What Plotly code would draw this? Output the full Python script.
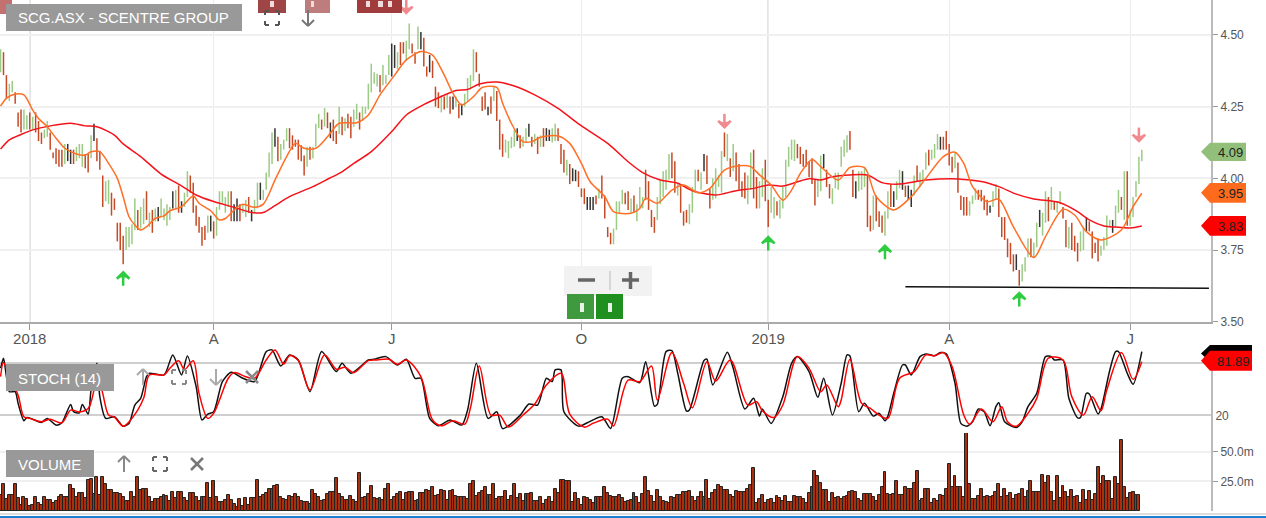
import plotly.graph_objects as go

# ---------- data ----------
HIGHS = [
4.45,4.44,4.36,4.33,4.34,4.30,4.23,4.24,4.24,4.22, 4.23,4.215,4.23,4.20,4.16,4.17,4.20,4.16,4.09,4.105,
4.10,4.10,4.12,4.12,4.10,4.10,4.11,4.12,4.12,4.085, 4.085,4.15,4.19,4.14,4.095,4.01,3.99,3.995,3.95,3.93,
3.845,3.845,3.80,3.83,3.83,3.84,3.93,3.89,3.90,3.93, 3.955,3.88,3.89,3.895,3.90,3.93,3.895,3.91,3.90,3.955,
3.96,3.975,3.92,3.95,4.025,4.01,3.985,3.905,3.865,3.83, 3.835,3.87,3.87,3.85,3.90,3.955,3.955,3.935,3.955,3.955,
3.91,3.93,3.91,3.91,3.925,3.935,3.89,3.925,3.985,3.985, 3.96,4.02,4.09,4.16,4.175,4.145,4.12,4.135,4.175,4.175,
4.15,4.135,4.135,4.115,4.08,4.11,4.11,4.11,4.19,4.225, 4.205,4.245,4.23,4.195,4.205,4.165,4.25,4.215,4.21,4.225,
4.215,4.24,4.26,4.23,4.25,4.25,4.33,4.40,4.37,4.365, 4.36,4.395,4.36,4.43,4.47,4.465,4.44,4.475,4.475,4.48,
4.54,4.47,4.44,4.53,4.51,
4.49,4.39,4.43,4.41,4.32, 4.30,4.29,4.285,4.295,4.285,4.285,4.285,4.26,4.26,4.295,
4.35,4.36,4.45,4.44,4.365,4.285,4.30,4.25,4.285,4.32, 4.305,4.205,4.155,4.135,4.13,4.145,4.17,4.175,4.15,4.145,
4.175,4.19,4.145,4.155,4.145,4.15,4.175,4.175,4.17,4.175, 4.19,4.175,4.12,4.10,4.065,4.05,4.035,4.03,4.025,3.965,
3.965,3.935,3.935,3.935,3.94,3.965,4.01,3.94,3.83,3.81, 3.825,3.92,3.92,3.96,3.95,3.955,3.93,3.94,3.91,3.97,
3.935,4.03,3.99,3.89,3.865,3.935,3.995,4.025,4.03,4.085, 4.09,4.06,3.98,3.975,3.885,3.89,3.91,3.97,4.03,4.03,
4.02,4.085,4.08,3.965,4.00,4.035,4.01,4.095,4.16,4.155, 4.07,4.12,4.09,4.05,3.99,4.02,4.01,4.09,4.10,4.005,
3.99,4.035,4.065,3.925,3.97,3.935,3.92,3.925,3.97,4.065, 4.11,4.135,4.135,4.12,4.11,4.085,4.10,4.06,4.07,3.995,
3.995,4.08,4.085,4.03,3.98,3.965,4.02,4.02,4.11,4.135, 4.15,4.165,4.03,3.99,4.025,4.025,4.035,4.01,3.87,3.94,
3.94,3.885,3.87,3.885,3.955,3.98,3.955,3.99,4.03,4.025, 3.975,3.975,3.96,4.01,4.045,4.02,4.03,4.09,4.10,4.10,
4.12,4.155,4.145,4.145,4.165,4.12,4.075,4.09,4.055,3.94, 3.935,3.935,3.92,3.94,3.965,3.96,3.96,3.94,3.925,3.905,
3.955,3.98,3.965,3.865,3.865,3.79,3.775,3.735,3.735,3.68, 3.70,3.725,3.79,3.79,3.775,3.845,3.89,3.88,3.955,3.935,
3.97,3.92,3.92,3.955,3.90,3.855,3.83,3.845,3.80,3.775, 3.815,3.83,3.865,3.85,3.815,3.775,3.79,3.765,3.795,3.87,
3.855,3.855,3.905,3.96,3.935,4.025,4.025,3.89,3.935,3.99, 4.075,4.10]
LOWS = [
4.37,4.36,4.28,4.27,4.30,4.26,4.18,4.16,4.17,4.17, 4.17,4.17,4.16,4.13,4.12,4.14,4.145,4.10,4.07,4.05,
4.04,4.04,4.05,4.06,4.05,4.05,4.06,4.07,4.04,4.035, 4.02,4.07,4.13,4.06,4.03,3.90,3.92,3.91,3.87,3.89,
3.78,3.75,3.70,3.75,3.76,3.77,3.82,3.82,3.825,3.84, 3.855,3.83,3.81,3.85,3.85,3.865,3.855,3.835,3.855,3.895,
3.895,3.88,3.88,3.90,3.935,3.95,3.88,3.835,3.81,3.765, 3.785,3.81,3.815,3.79,3.80,3.89,3.915,3.88,3.90,3.85,
3.85,3.85,3.85,3.88,3.865,3.88,3.85,3.88,3.895,3.925, 3.925,3.96,4.005,4.05,4.11,4.06,4.065,4.10,4.13,4.105,
4.10,4.11,4.065,4.06,4.01,4.04,4.065,4.07,4.11,4.175, 4.17,4.18,4.175,4.14,4.13,4.12,4.155,4.15,4.165,4.175,
4.14,4.18,4.205,4.17,4.20,4.225,4.24,4.30,4.33,4.32, 4.30,4.325,4.33,4.36,4.355,4.385,4.38,4.395,4.435,4.41,
4.45,4.435,4.40,4.45,4.45,
4.39,4.355,4.37,4.35,4.25, 4.245,4.23,4.24,4.245,4.225,4.24,4.25,4.21,4.22,4.25,
4.27,4.31,4.34,4.37,4.32,4.235,4.24,4.22,4.225,4.27, 4.20,4.10,4.075,4.09,4.07,4.105,4.11,4.13,4.105,4.11,
4.125,4.145,4.11,4.12,4.085,4.11,4.11,4.13,4.13,4.125, 4.13,4.13,4.05,4.02,4.01,3.98,3.99,3.99,3.97,3.935,
3.91,3.89,3.89,3.89,3.91,3.93,3.93,3.86,3.795,3.77, 3.77,3.82,3.88,3.91,3.91,3.89,3.88,3.88,3.85,3.895,
3.895,3.925,3.89,3.83,3.81,3.855,3.91,3.935,3.96,3.995, 4.00,3.95,3.94,3.88,3.835,3.845,3.84,3.88,3.95,3.99,
3.96,4.025,3.98,3.895,3.925,3.93,3.97,3.95,4.075,4.06, 4.005,4.025,3.99,3.96,3.935,3.93,3.91,3.96,3.93,3.895,
3.895,3.935,3.92,3.83,3.88,3.86,3.87,3.86,3.895,3.935, 4.04,4.065,4.06,4.07,4.05,4.04,4.04,4.005,3.98,3.905,
3.935,3.955,4.035,3.97,3.93,3.91,3.965,3.96,4.04,4.075, 4.09,4.10,3.935,3.93,3.955,3.96,3.97,3.83,3.815,3.82,
3.85,3.83,3.81,3.80,3.86,3.90,3.90,3.925,3.965,3.96, 3.935,3.925,3.90,3.94,3.99,3.97,3.99,4.03,4.045,4.065,
4.07,4.10,4.10,4.10,4.10,4.045,4.02,4.035,3.95,3.89, 3.87,3.87,3.87,3.91,3.925,3.925,3.92,3.89,3.87,3.88,
3.90,3.925,3.865,3.795,3.785,3.725,3.70,3.675,3.68,3.625, 3.64,3.675,3.725,3.725,3.725,3.76,3.83,3.80,3.845,3.85,
3.89,3.89,3.88,3.91,3.86,3.76,3.755,3.75,3.745,3.71, 3.745,3.75,3.815,3.815,3.72,3.74,3.71,3.73,3.75,3.765,
3.83,3.81,3.83,3.88,3.89,3.855,3.835,3.835,3.865,3.935, 3.98,4.06]
BAR_KIND = (
"grrggrrrgg" "rgrrrggrrr" "rrgkkrgggr" "rgkrrrggrr" "rrrggggrgg" "rgrgkggggk"
"grkggrrrrr" "rgkrgggggr" "kkrggrkggk" "ggggkrgggr" "rrrrrgrggg" "rgrkrrgrgr"
"rggrgggggg" "rgggkkgrrg" "grrgk" "rrkrr"
"rgrgrkgrkg" "gggrrrrkrg" "rrrggggkrg" "gkrgrgrkkg" "grrrgrkkrr" "rkkkrgrrrr"
"ggggrrgrgg" "grrrrggggg" "rrgrrrgggr" "gkrrggggrg" "rgrrrrggrr" "ggrrggrggg"
"gggrrrrrrr" "ggkrrggggg" "grrkgggrrg" "rrrggrkggk" "rkkgrgggrg" "ggkrrrrgrr"
"rrgggrrrrk" "ggrrrrrrkr" "gggrggkggr" "grggrrgrrr" "ggkrrrrggg" "gkggrgrggg" "gg")

VOLUME_M = [
13.5,23,10,13.5,13.5,23,10.7,5,12,10, 4.5,5,12,7,5,12,9.3,9.3,6.5,8.5, 12,13.5,11.5,11.5,22,19,11.5,15,15.5,10.7,
26,27,14.5,28.5,13.5,28.5,22.5,18,17.7,15.5, 15,14,11.5,8.7,8.7,16.3,11.5,28.5,17.7,19, 19,12,7.3,10,10,11.5,13.5,12.7,8.7,16.3,
10.7,16.3,16.3,11.3,8.5,15.5,15,11.5,8.7,12, 11.5,24,10.7,25.3,12,7.3,8,9.3,13.5,9.3, 6,3.7,10,4.5,11.3,5,11.3,11.3,26,12,
13.5,15.5,18.6,19,21.5,22,11.5,10,9.3,12.7, 11.5,14.5,11.5,8.7,8,7.3,5.6,17.7,14.5,12, 8.7,9.3,14.5,15.8,15.8,28,14.5,11.5,9.3,9.3,
13,9.3,8,31.8,11.3,11.5,14.5,21,10.7,9.9, 10.7,9.3,18.6,22.8,9.3,11.5,14.5,16.3,9.3,15.5, 16.3,16.3,8.7,9.3,
15.5,15.5,17.7,17.2,20,12.7,13.5,17.7,16.9,9.3, 16.9,17.7,12.7,12.1,11.5,11.5,9.9,22.8,25.4,12.7,
15,16.9,20.6,13.5,13.5,22.8,9.9,11.5,12.1,16.9, 9.3,12.7,22.8,10.7,14.4,8.5,14.4,14.4,15.5,8.5,
8.7,12.1,5.9,9.3,12.1,7.9,18.6,15.5,26.2,26.2, 25.4,25.4,7.3,15.5,9.9,5,12.1,10.7,9.3,7,
11.5,12.1,12.1,20,15.5,12.7,12.1,11.5,13.5,10.7, 7.9,8.7,9,15,12.1,7,14.6,28.4,16.9,12.7,
7.9,17.7,12.1,8.7,7.9,7,12.1,10.7,13.5,13.5, 15.8,15.8,17.2,12.1,8.7,12.1,15.8,11.5,26.2,9.9,
15.5,17.7,22,20,17.7,17.7,13.5,12.1,16.9,15.8, 16,16.3,18.6,22,36,6.5,10.1,13.5,6.5,9.3,
10.1,7,12.7,10.7,8.5,12.7,7.9,7.3,12.7,11.5, 11.5,10.1,7,15.5,20,33.8,29.6,23.9,17.7,17.7,
7.9,15.5,10.7,12.1,
9.9,11.5,12.7,16.3,16.9,16.3,9.9,8.5,14.4,14.4, 14.4,12.1,8.7,13.5,20,32.7,14.4,13.5,14.4,25.4,
13.5,13.5,20,18.6,19,23.9,33.8,8.5,10.1,18.6, 18.6,6.5,9.9,8.7,13.5,12.7,18.6,39.7,20.6,29.6,
20,20,11.5,66,22.8,9.9,9.9,12.7,18.6,12.1, 12.7,11.5,12.7,16.3,22.8,11.5,18.6,12.7,15.5,9.9,
13.5,14.4,19,12.1,17.2,25.4,16.3,16.3,16.3,30.4, 23.9,29.6,16.3,8.7,29.6,10.7,21,16.3,11.5,17.7,
12.1,12.7,7,17.7,9.3,17.2,9.3,14.4,36.9,22.8, 29.6,25.4,25.4,9.9,28.5,22.8,60,20,10.7,15,
16.3,13.5,13.5]

MA_SLOW_X = [0,3,7,11,17,24,29,33,39,42,48,55,62,67,73,80,86,90,94,99,107,113,116,121,127,134,139,144,
150,156,160,164,170,176,183,191,198,208,215,220,226,232,237,245,252,258,263,268,274,277,281,
285,291,297,302,308,317,328,336,342,348,354,363,369,373,378,382,387,391]
MA_SLOW = [4.102,4.134,4.153,4.169,4.183,4.192,4.183,4.18,4.151,4.12,4.076,4.015,3.974,3.942,3.919,3.899,3.881,3.881,3.905,3.936,3.971,4.002,4.017,4.052,4.093,4.163,4.221,4.252,
4.281,4.306,4.31,4.329,4.336,4.322,4.291,4.244,4.19,4.122,4.058,4.02,3.994,3.983,3.957,3.942,3.957,3.965,3.977,3.973,3.991,3.999,3.994,
4.006,4.012,4.012,3.985,3.98,3.994,3.998,3.989,3.971,3.945,3.928,3.915,3.884,3.855,3.834,3.83,3.827,3.834]

MA_FAST_X = [0,2,5,8,11,13,16,19,22,26,29,31,34,37,40,42,44,46,48,50,53,56,58,62,66,68,72,75,77,81,83,87,90,94,98,101,104,108,112,116,122,126,130,135,139,
144,148,152,155,158,162,165,170,172,175,179,182,185,191,195,199,202,207,210,216,219,221,225,230,234,239,243,248,253,257,260,264,268,271,274,278,
281,287,291,296,300,306,312,317,323,327,330,333,338,342,347,354,358,364,368,372,377,384,388,391]
MA_FAST = [4.252,4.279,4.294,4.291,4.238,4.209,4.18,4.14,4.105,4.085,4.081,4.093,4.093,4.052,4.0,3.936,3.866,3.837,3.82,3.831,3.86,3.869,3.887,3.901,3.938,3.913,3.887,3.855,3.86,3.899,3.91,3.899,3.91,3.994,4.076,4.122,4.105,4.105,4.145,4.192,4.194,4.221,4.291,4.36,4.413,
4.442,4.43,4.36,4.296,4.256,4.285,4.317,4.317,4.262,4.192,4.128,4.128,4.143,4.148,4.122,4.052,3.988,3.936,3.884,3.878,3.895,3.93,3.913,3.959,3.977,3.95,3.965,4.029,4.044,4.041,4.012,3.977,3.924,3.959,4.017,4.066,
4.041,3.994,4.038,4.037,3.936,3.89,3.936,4.0,4.076,4.091,4.052,3.971,3.919,3.927,3.831,3.724,3.797,3.892,3.872,3.814,3.785,3.82,3.901,3.948]

STOCH_K_X = [0,1,2,3,5,6,8,9,11,14,16,19,21,24,25,27,28,30,31,33,34,36,39,42,44,46,48,50,51,56,59,62,64,67,69,71,73,76,79,83,87,91,93,96,99,102,106,110,115,117,120,126,128,132,136,139,142,
144,147,150,154,158,160,163,167,170,172,178,181,184,187,189,190,192,193,198,201,206,209,213,215,219,221,224,225,228,230,232,235,236,241,242,244,249,251,255,258,260,261,264,268,271,273,277,280,282,285,288,
290,291,294,296,299,301,303,304,306,309,310,312,315,317,320,322,324,327,329,331,333,335,337,339,341,342,344,348,350,352,355,358,360,361,364,366,369,370,372,373,376,377,380,382,383,386,388,391]
STOCH_K = [73.6,84.9,64,47,47,33.7,13.9,17.7,15.8,12,16.6,9,11.6,32.5,24.2,23,32.5,21.5,48.9,79.2,41.3,16.6,18.5,7.8,10.9,31.8,39.4,64,67.9,66,88.7,66,87.6,52.7,14.7,21.5,24.2,58.4,69,62.2,58.4,92.5,94.4,76.2,88.7,83,47,92.5,69.8,79.2,67.9,83,83.8,86.8,77.3,83.8,62.2,
62.2,16.6,8.2,14.7,9,26.1,79.2,16.6,24.2,5,20,32.9,31.8,62.2,58.4,71.7,71.7,24.2,7.8,11.6,18.5,5.2,62.2,64,57.2,81,30.6,32.5,92.5,93.7,67.9,24.9,26.1,82.3,83.8,54.6,91.7,73.6,27.2,39.4,19.2,27.2,10.9,41.3,79.2,86.8,69.8,40.5,62.2,20.4,56.5,
88.7,87.6,24.2,33.7,19.2,22.3,13.9,19.2,45.1,77.3,77.3,66,86.8,89.9,87.9,91.4,89.9,56.5,10.9,7.8,12.8,27.2,24.2,8.2,29.9,34.5,12.8,6.3,12.8,29.9,45.1,86.8,86.8,83,83,39.4,17.3,17.7,45.1,44.3,21.5,27.2,71,92.5,92.5,67.9,55.3,92.5]

STOCH_D_X = [0,1,3,6,8,10,14,17,21,24,27,30,32,33,35,37,39,42,45,49,51,56,58,61,63,66,68,71,73,75,78,80,84,87,91,94,97,99,102,106,111,115,118,121,126,129,133,136,139,
144,148,151,155,159,161,164,168,171,174,179,183,187,192,195,200,203,208,210,215,219,223,225,230,234,237,242,245,250,256,259,261,265,268,273,277,281,283,287,
288,291,295,298,301,304,308,313,317,320,323,326,330,332,336,340,343,345,348,352,355,359,364,367,371,374,377,379,384,388,391]
STOCH_D = [64,80,64,43,18.5,16.6,12.8,15.5,11.6,26,24,27.8,48.9,71,45,20.5,18,7.8,16.6,39.4,66,66,73.5,82,72,82,45,16.6,22.3,37.5,62.2,68.6,64,62.2,83,94.4,78.4,87.9,82.3,49,88.7,72.5,74.7,68.6,82.3,83,83.8,78,83,
64,14.7,8.2,14,10,28.9,76.2,20.4,20.4,6.7,20.4,32.9,54.6,67.9,21.5,6.7,11,15.8,8,60,58.4,76.2,37.5,91.4,56.5,28.6,81.1,59,83,31.8,35.6,25.3,17.7,31.8,86.8,73.5,46.8,54.6,29.9,
37.5,83.8,33.7,28,20.4,16.6,62.2,69.8,88.7,87.9,91.4,75.5,20.4,10,27.2,12.8,29.9,12.8,7.8,22.3,39.4,85,83,41.3,20.4,41.3,25.3,48.9,91.4,61,81.1]

SUPPORT_X = [310, 414]
SUPPORT_Y = [3.622, 3.617]
TICK_IDX = [10, 73, 134, 199, 263, 325, 387]
TICK_LABELS = ["2018", "A", "J", "O", "2019", "A", "J"]
PRICE_TICKS = [3.50, 3.75, 4.00, 4.25, 4.50]
BUY_IDX = [42, 263, 303, 349]
BUY_TIP = [3.672, 3.795, 3.765, 3.60]
BUY_TAIL = [3.625, 3.748, 3.718, 3.553]
SELL_IDX = [139, 248, 390]
SELL_TIP = [4.577, 4.178, 4.13]
SELL_TAIL = [4.624, 4.225, 4.177]
TITLES = ["SCG.ASX - SCENTRE GROUP", "STOCH (14)", "VOLUME"]
FLAG_TEXT = ["4.09", "3.95", "3.83"]

# ---------- page geometry ----------
W, H = 1266, 518
def X(p): return p / W
def Y(p): return 1 - p / H
def seg(x0, y0, x1, y1, color="#777", width=2):
    return dict(type="line", xref="paper", yref="paper", x0=X(x0), y0=Y(y0), x1=X(x1), y1=Y(y1),
                line=dict(color=color, width=width), layer="above")
def box(x0, y0, x1, y1, fill, line=None):
    return dict(type="rect", xref="paper", yref="paper", x0=X(x0), y0=Y(y0), x1=X(x1), y1=Y(y1),
                fillcolor=fill, line=dict(width=0), layer="above")
def poly(pts, fill):
    d = "M" + " L".join(f"{X(a):.5f},{Y(b):.5f}" for a, b in pts) + " Z"
    return dict(type="path", xref="paper", yref="paper", path=d, fillcolor=fill, line=dict(width=0), layer="above")
def up(cx, cy, c):
    return [seg(cx, cy-8, cx, cy+8, c), seg(cx-6, cy-2, cx, cy-8, c), seg(cx+6, cy-2, cx, cy-8, c)]
def down(cx, cy, c):
    return [seg(cx, cy-8, cx, cy+8, c), seg(cx-6, cy+2, cx, cy+8, c), seg(cx+6, cy+2, cx, cy+8, c)]
def cross(cx, cy, c):
    return [seg(cx-6, cy-6, cx+6, cy+6, c, 2.5), seg(cx-6, cy+6, cx+6, cy-6, c, 2.5)]
def full(cx, cy, c):
    r, l = 7, 4
    out = []
    for sx in (-1, 1):
        for sy in (-1, 1):
            out += [seg(cx+sx*r, cy+sy*r, cx+sx*(r-l), cy+sy*r, c), seg(cx+sx*r, cy+sy*r, cx+sx*r, cy+sy*(r-l), c)]
    return out
def flag(y0, y1, x1, fill):
    m = (y0 + y1) / 2
    return poly([(1201, m), (1210, y0), (x1, y0), (x1, y1), (1210, y1)], fill)
def shafts(xs, a, b):
    outx, outy = [], []
    for x, p, q in zip(xs, a, b):
        outx += [x, x, None]
        outy += [p, q, None]
    return outx, outy

COL = {"g": "#9ccb85", "r": "#c64a26", "k": "#333333"}
GREEN_ARROW, PINK_ARROW = "#2ecc40", "#f08a8f"

fig = go.Figure()
for kind in "grk":
    xs, ys = [], []
    for i, (h, l, c) in enumerate(zip(HIGHS, LOWS, BAR_KIND)):
        if c == kind:
            xs += [i, i, None]
            ys += [l, h, None]
    fig.add_scatter(x=xs, y=ys, mode="lines", line=dict(color=COL[kind], width=1.5), xaxis="x", yaxis="y", name="price " + kind)
fig.add_scatter(x=MA_SLOW_X, y=MA_SLOW, mode="lines", line=dict(color="#f5131a", width=1.5, shape="spline", smoothing=0.8), xaxis="x", yaxis="y", name="slow")
fig.add_scatter(x=MA_FAST_X, y=MA_FAST, mode="lines", line=dict(color="#ff6f26", width=1.5, shape="spline", smoothing=0.8), xaxis="x", yaxis="y", name="fast")
fig.add_scatter(x=SUPPORT_X, y=SUPPORT_Y, mode="lines", line=dict(color="#111", width=1.5), xaxis="x", yaxis="y", name="support")
fig.add_scatter(x=STOCH_K_X, y=STOCH_K, mode="lines", line=dict(color="#111", width=1.5, shape="spline", smoothing=0.7), xaxis="x2", yaxis="y2", name="k")
fig.add_scatter(x=STOCH_D_X, y=STOCH_D, mode="lines", line=dict(color="#ff0000", width=1.5, shape="spline", smoothing=0.9), xaxis="x2", yaxis="y2", name="d")
fig.add_bar(x=list(range(len(VOLUME_M))), y=VOLUME_M, width=1.0,
            marker=dict(color="#a8300c", line=dict(color="#222", width=1)), xaxis="x3", yaxis="y3", name="vol")
bx, by = shafts(BUY_IDX, BUY_TIP, BUY_TAIL)
sx, sy = shafts(SELL_IDX, SELL_TIP, SELL_TAIL)
fig.add_scatter(x=bx, y=by, mode="lines", line=dict(color=GREEN_ARROW, width=2.5), xaxis="x", yaxis="y", name="buy shaft", cliponaxis=False)
fig.add_scatter(x=sx, y=sy, mode="lines", line=dict(color=PINK_ARROW, width=2.5), xaxis="x", yaxis="y", name="sell shaft", cliponaxis=False)
fig.add_scatter(x=BUY_IDX, y=BUY_TIP, mode="markers", marker=dict(symbol="arrow-wide-open", size=9, color=GREEN_ARROW, line=dict(color=GREEN_ARROW, width=2.5)),
                xaxis="x", yaxis="y", name="buy")
fig.add_scatter(x=SELL_IDX, y=SELL_TIP, mode="markers", marker=dict(symbol="arrow-wide-open", angle=180, size=9, color=PINK_ARROW, line=dict(color=PINK_ARROW, width=2.5)),
                xaxis="x", yaxis="y", name="sell")

shapes = []
# top red buttons, zoom control, green buttons
shapes += [box(0, 0, 12, 14, "#c27070"), box(258, 0, 286, 13, "#a04545"), box(305, 0, 330, 13, "#bd7d7d"), box(357, 0, 402, 13, "#a03c3c")]
for a, b in [(270, 274), (311, 314), (366, 370), (378, 383), (388, 392)]:
    shapes.append(box(a, 1, b, 7, "#f0dcdc"))
shapes.append(dict(type="rect", xref="paper", yref="paper", x0=X(564), x1=X(652), y0=Y(266), y1=Y(296),
                   fillcolor="#f2f2f2", line=dict(width=0), layer="above"))
shapes += [seg(578, 280, 595, 280, "#666", 3.5), seg(610, 271, 610, 290, "#ccc", 1.5), seg(622, 280, 639, 280, "#666", 3.5), seg(630.5, 272, 630.5, 289, "#666", 3.5)]
shapes += [box(567, 294, 594, 319, "#3f9a3f"), box(596, 294, 623, 319, "#1f8f1f"), box(580, 303, 584, 312, "#e6f3e6"), box(608, 303, 612, 312, "#e6f3e6")]
# label boxes
shapes += [box(6, 4, 242, 31, "#999999"), box(6, 364, 114, 391, "#999999"), box(6, 450, 94, 477, "#999999")]
# icons
shapes += full(272, 18, "#555") + down(308, 18, "#777")
shapes += up(143, 377, "#aaa") + full(179, 377, "#888") + down(216, 377, "#aaa") + cross(252, 377, "#888")
shapes += up(124, 464, "#888") + full(160, 464, "#666") + cross(197, 464, "#777")
# price flags
shapes += [flag(142.7, 161, 1246, "#92c07a"), flag(183, 202.7, 1246, "#ff6b1c"), flag(216, 235.7, 1246, "#ff0000"),
           flag(345, 362, 1252, "#000000"), flag(350.7, 370.7, 1252, "#ff0000")]
# bottom strip
shapes += [box(0, 513, 1266, 515, "#dddddd"), box(0, 516, 1266, 518, "#1b7fd4")]

ann = []
def label(p, q, t, size=14, color="#fff", anchor="center", fam="Liberation Sans"):
    ann.append(dict(xref="paper", yref="paper", x=X(p), y=Y(q), text=t, showarrow=False, xanchor=anchor, yanchor="middle",
                    font=dict(size=size, color=color, family=fam)))
label(16, 17.5, TITLES[0], 15, anchor="left")
label(16, 378, TITLES[1], 15, anchor="left")
label(16, 464, TITLES[2], 15, anchor="left")
for q, t in zip([152, 193, 226], FLAG_TEXT):
    label(1245, q, t, 13, "#222", "right")
label(1252, 361, "81.89", 13, "#222", "right")

tick_font = dict(family="Liberation Sans", size=12, color="#555")
xr = [-0.2, 414.7]
dom = [0, 1211 / W]
layout = dict(
    width=W, height=H, margin=dict(l=0, r=0, t=0, b=0, autoexpand=False), paper_bgcolor="#fff", plot_bgcolor="#fff",
    showlegend=False, bargap=0, barmode="overlay", hovermode=False, shapes=shapes, annotations=ann,
    xaxis=dict(domain=dom, range=xr, anchor="y", tickmode="array", tickvals=TICK_IDX, ticktext=TICK_LABELS, ticks="outside", ticklen=6,
               ticklabelstandoff=-4, tickcolor="#999", showgrid=True, gridcolor="#ececec", gridwidth=1, showline=True, linecolor="#aaa", linewidth=2,
               tickfont=dict(family="Liberation Sans", size=15, color="#555"), zeroline=False),
    yaxis=dict(domain=[Y(321.7), 1], range=[3.50, 4.622], side="right", anchor="x", tickmode="array", tickvals=PRICE_TICKS,
               ticktext=[f"{v:.2f}" for v in PRICE_TICKS], ticks="outside", ticklen=5, tickcolor="#999", showgrid=True, gridcolor="#f0f0f0",
               gridwidth=1.5, showline=True, linecolor="#bbb", linewidth=2, tickfont=tick_font, zeroline=False),
    xaxis2=dict(domain=dom, range=xr, anchor="y2", showticklabels=False, showgrid=False, zeroline=False, ticks=""),
    yaxis2=dict(domain=[Y(433), Y(345)], range=[0, 100], side="right", anchor="x2", tickmode="array", tickvals=[0, 20, 80, 100],
                ticktext=["", "20", "", ""], ticks="", showgrid=True, gridcolor="#cfcfcf", gridwidth=2, showline=True, linecolor="#bbb", linewidth=2,
                tickfont=tick_font, zeroline=False),
    xaxis3=dict(domain=dom, range=xr, anchor="y3", showticklabels=False, showgrid=False, zeroline=False, ticks=""),
    yaxis3=dict(domain=[Y(511), Y(433)], range=[0, 66], side="right", anchor="x3", tickmode="array", tickvals=[25, 50],
                ticktext=["25.0m", "50.0m"], ticks="outside", ticklen=5, tickcolor="#999", showgrid=True, gridcolor="#f0f0f0", gridwidth=1.5,
                showline=True, linecolor="#bbb", linewidth=2, tickfont=tick_font, zeroline=False),
)
fig.update_layout(**layout)
# the two year boundaries carry a darker rule
for i in (TICK_IDX[0], TICK_IDX[4]):
    fig.add_shape(type="line", xref="x", yref="y", x0=i, x1=i, y0=3.50, y1=4.622, line=dict(color="#cccccc", width=1.5), layer="below")
fig.write_html("out.html", config=dict(displayModeBar=False), post_script="document.body.style.margin='0';document.body.style.overflow='hidden';")
